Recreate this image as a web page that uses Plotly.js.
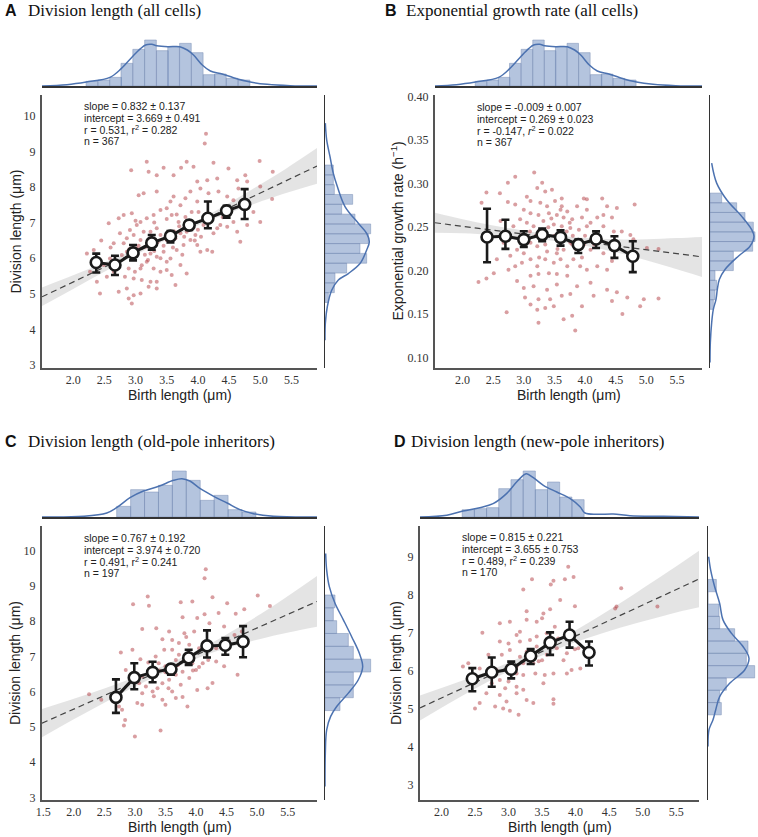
<!DOCTYPE html>
<html>
<head>
<meta charset="utf-8">
<script src="https://cdn.plot.ly/plotly-3.0.1.min.js"></script>
<style>html,body{margin:0;padding:0;background:#fff}</style>
</head>
<body>
<div id="chart" style="width:758px;height:837px;"></div>
<script>
// ---------- data ----------

// A: birth length vs division length, all cells
const pointsA = [[4.13,9.49],[4.11,9.22],[3.18,8.71],[2.93,8.47],[3.21,8.43],[3.45,8.54],[3.73,8.54],[3.82,8.71],[3.93,8.57],[4.25,8.68],[4.99,8.73],[5.20,8.43],[4.49,8.52],[4.15,8.19],[3.99,8.15],[4.31,8.24],[4.63,8.19],[4.76,8.33],[3.61,8.33],[3.34,8.33],[3.05,7.77],[3.13,7.82],[3.34,7.87],[3.56,7.59],[3.61,7.73],[3.72,7.49],[3.80,7.68],[3.88,7.87],[3.99,7.59],[4.04,7.96],[4.17,7.82],[4.33,7.87],[4.47,7.73],[4.57,7.63],[4.65,7.96],[4.79,8.15],[5.00,8.01],[4.89,7.30],[5.19,7.66],[2.81,7.21],[2.94,7.26],[2.57,6.98],[2.73,7.12],[3.08,7.02],[3.18,7.12],[3.29,7.21],[3.40,7.35],[3.50,7.40],[3.58,7.21],[3.66,7.23],[3.69,7.02],[3.80,7.16],[3.90,7.30],[4.01,7.30],[4.09,6.93],[4.20,7.02],[4.31,6.84],[4.36,6.93],[4.47,6.88],[4.57,7.02],[4.63,6.74],[4.79,6.93],[5.00,7.02],[4.68,6.46],[4.15,6.23],[4.23,6.18],[4.04,6.18],[3.96,6.65],[3.82,6.74],[3.72,6.70],[3.64,6.56],[3.50,6.51],[3.40,6.65],[3.34,6.84],[3.24,6.74],[3.13,6.74],[3.02,6.93],[2.97,6.65],[2.91,6.79],[2.86,6.56],[2.81,6.42],[2.65,6.42],[2.78,6.09],[2.86,6.18],[3.02,6.27],[3.08,6.51],[3.16,6.32],[3.24,6.13],[3.34,6.04],[3.45,6.18],[3.56,5.99],[3.66,6.23],[3.77,6.37],[3.88,6.51],[3.99,6.37],[3.72,5.81],[3.82,5.57],[3.50,5.67],[3.40,5.62],[3.29,5.71],[3.18,5.90],[3.08,5.71],[2.99,5.62],[2.89,5.71],[2.83,5.48],[2.97,5.43],[3.10,5.39],[3.24,5.34],[3.34,5.34],[3.58,5.53],[3.64,5.25],[3.08,5.01],[2.97,4.96],[2.86,5.15],[2.73,5.06],[2.43,5.01],[2.89,4.87],[3.21,5.20],[3.34,5.15],[2.94,4.73],[2.22,6.13],[2.33,6.23],[2.49,5.81],[2.27,5.62],[2.54,5.48],[2.65,5.62],[2.38,5.34],[2.59,5.99],[2.70,5.81],[3.26,6.55],[3.35,6.45],[3.45,6.35],[3.55,6.60],[3.62,6.75],[3.70,6.90],[3.78,6.60],[3.85,6.80],[3.92,6.90],[4.00,6.80],[4.05,6.60],[3.30,6.20],[3.15,6.10],[3.05,6.35],[2.95,6.00],[3.40,6.00],[3.50,5.90],[3.75,6.10],[3.20,5.95],[3.10,5.80],[2.90,6.25],[3.60,6.30],[3.95,6.50],[4.10,7.10],[4.25,6.70],[4.40,7.15],[3.30,7.00],[3.50,7.10],[3.00,7.05],[2.75,6.70],[2.60,6.30],[2.45,6.50]];
const meanXA = [2.37, 2.67, 2.96, 3.26, 3.56, 3.86, 4.16, 4.46, 4.75];
const meanYA = [5.88, 5.81, 6.15, 6.43, 6.62, 6.93, 7.12, 7.33, 7.51];
const errUpA = [0.25, 0.26, 0.22, 0.22, 0.14, 0.12, 0.47, 0.14, 0.43];
const errDnA = [0.28, 0.28, 0.21, 0.19, 0.18, 0.14, 0.28, 0.19, 0.41];
const fitA = {slope: 0.832, intercept: 3.669};
const ciXA  = [1.5, 2.0, 2.5, 3.0, 3.6, 4.2, 4.8, 5.4, 5.91];
const ciLoA = [4.66, 5.14, 5.62, 6.09, 6.60, 7.07, 7.46, 7.82, 8.09];
const ciHiA = [5.18, 5.52, 5.88, 6.25, 6.72, 7.25, 7.86, 8.50, 9.09];
const statsA = ["slope = 0.832 ± 0.137", "intercept = 3.669 ± 0.491", "r = 0.531, r<sup>2</sup> = 0.282", "n = 367"];

// birth length distribution of all cells (top margins of A and B)
const birthBinsAll   = [2.30, 2.49, 2.68, 2.86, 3.05, 3.24, 3.43, 3.61, 3.80, 3.99, 4.18, 4.36, 4.55, 4.74];
const birthCountsAll = [14, 18, 26, 68, 110, 138, 106, 118, 128, 100, 34, 36, 23, 18];
const birthKdeXAll = [1.50, 1.90, 2.21, 2.59, 2.77, 2.96, 3.08, 3.16, 3.26, 3.34, 3.52, 3.71, 3.83, 3.93, 4.07, 4.20, 4.39, 4.57, 4.84, 5.11, 5.48, 5.91];
const birthKdeHAll = [0, 4, 12, 26, 52, 90, 112, 123, 125, 121, 118, 118, 108, 93, 63, 45, 36, 25, 12, 5, 1, 0];

// division length distribution, all cells (right margin of A)
const divBinsA   = [8.477, 8.202, 7.926, 7.651, 7.375, 7.100, 6.824, 6.549, 6.273, 5.998, 5.722, 5.447, 5.171, 4.896];
const divCountsA = [25, 25, 28, 83, 50, 90, 137, 130, 105, 125, 65, 30, 28, 10];
const divKdeYA = [9.79, 9.32, 8.85, 8.38, 8.01, 7.45, 6.98, 6.70, 6.46, 6.23, 5.85, 5.57, 5.39, 5.10, 4.64, 4.17, 3.70];
const divKdeWA = [1, 5, 15, 25, 37, 60, 100, 125, 133, 125, 105, 70, 40, 20, 7, 1, 0];

// B: birth length vs exponential growth rate, all cells
const pointsB = [[3.17,0.313],[2.86,0.308],[2.74,0.301],[2.39,0.290],[2.61,0.289],[2.31,0.278],[2.74,0.279],[3.30,0.301],[3.35,0.291],[3.22,0.295],[3.46,0.293],[3.05,0.285],[3.11,0.280],[3.27,0.278],[3.38,0.274],[3.51,0.280],[3.62,0.274],[3.71,0.268],[3.87,0.274],[4.03,0.282],[4.03,0.270],[4.28,0.283],[4.36,0.274],[4.52,0.272],[4.81,0.276],[4.30,0.264],[4.44,0.261],[4.20,0.261],[4.09,0.255],[3.95,0.261],[3.79,0.259],[3.65,0.261],[3.54,0.264],[3.41,0.266],[3.24,0.264],[3.11,0.266],[3.00,0.270],[2.94,0.259],[2.83,0.251],[3.05,0.255],[3.16,0.251],[3.32,0.257],[3.49,0.253],[3.62,0.251],[3.76,0.249],[3.90,0.247],[4.03,0.251],[4.30,0.251],[4.47,0.245],[4.60,0.245],[4.74,0.241],[4.79,0.236],[5.01,0.226],[5.20,0.225],[4.52,0.228],[4.30,0.220],[4.09,0.224],[3.98,0.230],[3.76,0.232],[3.65,0.224],[3.54,0.220],[3.38,0.222],[3.22,0.228],[3.11,0.232],[3.00,0.220],[2.89,0.224],[2.78,0.217],[2.86,0.205],[2.97,0.209],[3.11,0.213],[3.22,0.205],[3.35,0.213],[3.49,0.209],[3.60,0.213],[3.71,0.205],[3.81,0.213],[3.92,0.205],[4.03,0.201],[4.20,0.205],[4.36,0.201],[4.44,0.211],[3.11,0.194],[3.24,0.196],[3.41,0.197],[3.54,0.196],[3.71,0.194],[2.89,0.188],[3.00,0.180],[3.16,0.182],[3.38,0.178],[3.54,0.184],[3.87,0.182],[4.09,0.186],[4.36,0.178],[4.52,0.175],[4.69,0.169],[4.90,0.159],[4.96,0.167],[5.20,0.168],[4.61,0.150],[4.44,0.165],[4.14,0.171],[3.95,0.159],[3.76,0.173],[3.62,0.171],[3.43,0.167],[3.24,0.167],[3.11,0.161],[3.02,0.169],[3.22,0.155],[3.35,0.157],[3.49,0.159],[2.72,0.152],[3.24,0.140],[3.65,0.144],[3.79,0.148],[3.84,0.131],[2.26,0.187],[2.39,0.191],[2.51,0.197],[2.56,0.213],[2.67,0.232],[2.62,0.257],[2.97,0.241],[2.75,0.201],[2.86,0.276],[3.98,0.283],[3.62,0.283],[3.79,0.230],[3.30,0.245],[3.40,0.250],[3.50,0.240],[3.60,0.235],[3.70,0.245],[3.80,0.240],[3.90,0.235],[3.20,0.240],[3.10,0.245],[3.00,0.235],[3.45,0.260],[3.60,0.270],[3.75,0.255],[3.35,0.230],[3.55,0.225],[3.95,0.215],[3.25,0.215],[4.00,0.240],[4.15,0.230],[3.85,0.225]];
const meanXB = [2.40, 2.70, 3.00, 3.30, 3.60, 3.89, 4.18, 4.48, 4.78];
const meanYB = [0.2387, 0.2395, 0.2357, 0.2414, 0.2383, 0.2299, 0.2364, 0.2288, 0.2166];
const errUpB = [0.0325, 0.0191, 0.0096, 0.0069, 0.0080, 0.0057, 0.0088, 0.0107, 0.0172];
const errDnB = [0.0290, 0.0145, 0.0084, 0.0076, 0.0096, 0.0096, 0.0103, 0.0141, 0.0183];
const fitB = {slope: -0.009, intercept: 0.269};
const ciXB  = [1.55, 2.0, 2.5, 3.0, 3.5, 4.0, 4.5, 5.0, 5.5, 5.91];
const ciLoB = [0.2435, 0.2430, 0.2410, 0.2382, 0.2342, 0.2285, 0.2210, 0.2120, 0.2015, 0.1928];
const ciHiB = [0.2665, 0.2590, 0.2520, 0.2458, 0.2408, 0.2375, 0.2360, 0.2360, 0.2375, 0.2388];
const statsB = ["slope = -0.009 ± 0.007", "intercept = 0.269 ± 0.023", "r = -0.147, <i>r</i><sup>2</sup> = 0.022", "n = 367"];
const rateBinsB   = [0.2836, 0.2725, 0.2613, 0.2502, 0.2390, 0.2279, 0.2167, 0.2056, 0.1944, 0.1833, 0.1721, 0.1610];
const rateCountsB = [35, 80, 105, 130, 135, 128, 70, 70, 15, 20, 15, 10];
const rateKdeYB = [0.3236, 0.3006, 0.2815, 0.2624, 0.2471, 0.2395, 0.2280, 0.2166, 0.2013, 0.1898, 0.1783, 0.1669, 0.1554, 0.1401, 0.1172, 0.0943];
const rateKdeWB = [5, 20, 50, 95, 125, 132, 120, 85, 45, 28, 22, 18, 10, 5, 1, 0];

// C: old-pole inheritors
const pointsC = [[4.16,9.47],[4.14,9.22],[3.21,8.70],[2.97,8.48],[3.23,8.44],[3.75,8.54],[3.94,8.56],[4.27,8.68],[4.51,8.51],[5.01,8.73],[5.21,8.43],[4.79,8.34],[4.65,8.21],[4.37,8.23],[4.14,8.20],[4.02,8.09],[3.78,8.11],[4.22,7.94],[4.46,7.85],[3.12,7.78],[3.35,7.80],[3.56,7.71],[3.81,7.66],[3.84,7.55],[3.97,7.71],[3.45,7.49],[2.77,7.11],[2.96,7.19],[3.09,6.92],[3.22,6.83],[3.34,7.00],[3.48,7.19],[3.61,7.19],[3.72,7.05],[3.89,7.33],[4.05,7.23],[4.33,7.23],[4.54,7.42],[4.63,7.61],[4.75,7.71],[4.33,6.86],[4.46,6.72],[4.68,6.48],[4.27,6.25],[4.19,6.10],[4.02,6.05],[3.89,6.39],[3.78,6.57],[3.67,6.48],[3.56,6.34],[3.45,6.24],[3.37,6.10],[3.29,6.01],[3.18,6.15],[3.07,6.24],[2.93,6.48],[2.85,6.62],[3.12,5.96],[3.04,5.68],[3.12,5.63],[3.31,5.87],[3.45,5.77],[3.50,5.63],[3.67,5.82],[3.78,5.85],[3.86,5.58],[3.61,6.01],[2.25,5.93],[2.45,5.77],[2.84,5.20],[2.82,5.04],[3.00,4.73],[3.42,4.90],[2.79,5.49],[2.74,5.58],[4.00,6.62],[4.11,6.81],[3.94,6.81],[3.67,6.90],[3.50,6.72],[3.39,6.81],[3.29,6.43],[3.12,6.43],[3.72,7.38],[3.61,7.47],[3.50,6.55],[3.60,6.65],[3.70,6.75],[3.80,6.90],[3.90,6.95],[3.95,6.60],[4.05,6.70],[3.40,6.60],[3.55,6.10],[4.20,6.90],[3.75,6.20]];
const meanXC = [2.69, 2.99, 3.29, 3.59, 3.88, 4.18, 4.48, 4.77];
const meanYC = [5.84, 6.40, 6.55, 6.64, 6.96, 7.30, 7.32, 7.42];
const errUpC = [0.51, 0.41, 0.30, 0.12, 0.23, 0.44, 0.20, 0.44];
const errDnC = [0.44, 0.33, 0.28, 0.16, 0.20, 0.33, 0.27, 0.44];
const fitC = {slope: 0.767, intercept: 3.974};
const ciXC  = [1.48, 2.0, 2.5, 3.0, 3.5, 3.8, 4.2, 4.7, 5.2, 5.98];
const ciLoC = [4.71, 5.22, 5.69, 6.15, 6.56, 6.79, 7.07, 7.33, 7.56, 7.84];
const ciHiC = [5.51, 5.80, 6.09, 6.41, 6.76, 6.99, 7.33, 7.83, 8.36, 9.28];
const statsC = ["slope = 0.767 ± 0.192", "intercept = 3.974 ± 0.720", "r = 0.491, r<sup>2</sup> = 0.241", "n = 197"];
const birthBinsC   = [2.816, 3.044, 3.272, 3.500, 3.727, 3.955, 4.183, 4.411, 4.639, 4.867];
const birthCountsC = [32, 82, 75, 95, 138, 110, 50, 65, 22, 15];
const birthKdeXC = [1.47, 2.16, 2.54, 2.70, 2.92, 3.14, 3.39, 3.63, 3.77, 3.90, 4.07, 4.29, 4.51, 4.72, 4.94, 5.27, 5.98];
const birthKdeHC = [0, 2, 12, 28, 58, 78, 92, 110, 115, 108, 85, 62, 42, 22, 10, 2, 0];
const divBinsC   = [8.562, 8.198, 7.834, 7.470, 7.105, 6.741, 6.377, 6.012, 5.648];
const divCountsC = [30, 25, 35, 70, 85, 137, 85, 85, 45];
const divKdeYC = [9.92, 9.45, 8.98, 8.51, 8.04, 7.56, 7.09, 6.71, 6.34, 5.96, 5.58, 5.30, 4.92, 4.26, 3.31];
const divKdeWC = [2, 5, 13, 30, 55, 80, 103, 113, 100, 70, 35, 17, 5, 1, 0];

// D: new-pole inheritors
const pointsD = [[3.89,8.74],[3.97,8.47],[3.84,8.41],[3.67,8.37],[3.35,8.41],[3.63,8.27],[3.22,8.14],[4.68,8.17],[4.61,7.69],[5.22,7.69],[3.99,7.70],[3.62,7.62],[3.77,7.86],[3.27,7.57],[3.52,7.51],[3.50,7.38],[3.42,7.29],[2.87,7.25],[3.02,7.29],[3.27,7.34],[3.69,7.16],[3.87,7.03],[3.74,6.85],[3.57,6.99],[3.42,6.90],[3.17,7.03],[3.12,6.94],[2.61,7.00],[2.87,6.77],[3.00,6.72],[3.17,6.77],[3.32,6.81],[3.42,6.64],[3.02,6.55],[2.90,6.42],[2.70,6.42],[3.17,6.37],[3.27,6.50],[3.22,6.20],[3.12,6.11],[3.37,6.20],[3.50,6.28],[3.57,6.42],[3.72,6.59],[3.82,6.28],[3.87,6.46],[3.99,6.57],[4.04,6.59],[3.94,6.02],[4.07,6.06],[3.87,5.93],[3.67,5.93],[3.54,5.89],[3.40,5.93],[3.22,5.89],[3.12,5.93],[2.32,6.11],[2.40,6.20],[2.57,6.06],[2.70,5.89],[2.82,6.02],[2.87,5.76],[3.00,5.72],[3.12,5.58],[3.22,5.50],[2.95,5.54],[2.75,5.67],[2.67,5.41],[2.87,5.36],[2.97,5.19],[3.12,5.41],[3.27,5.23],[3.37,5.15],[3.52,5.67],[3.67,5.25],[3.67,5.13],[2.57,5.15],[2.50,5.01],[2.80,5.06],[2.92,5.01],[3.02,4.95],[3.15,4.84],[4.59,7.64],[3.30,6.30],[3.35,6.40],[3.45,6.25]];
const meanXD = [2.46, 2.75, 3.04, 3.33, 3.62, 3.91, 4.20];
const meanYD = [5.79, 5.96, 6.04, 6.39, 6.74, 6.94, 6.48];
const errUpD = [0.28, 0.39, 0.20, 0.18, 0.27, 0.35, 0.29];
const errDnD = [0.33, 0.38, 0.24, 0.21, 0.32, 0.33, 0.34];
const fitD = {slope: 0.815, intercept: 3.655};
const ciXD  = [1.68, 2.2, 2.7, 3.2, 3.5, 3.9, 4.4, 4.9, 5.4, 5.84];
const ciLoD = [4.69, 5.23, 5.72, 6.15, 6.40, 6.69, 6.99, 7.25, 7.49, 7.67];
const ciHiD = [5.35, 5.67, 6.00, 6.37, 6.62, 6.97, 7.49, 8.05, 8.63, 9.16];
const statsD = ["slope = 0.815 ± 0.221", "intercept = 3.655 ± 0.753", "r = 0.489, r<sup>2</sup> = 0.239", "n = 170"];
const birthBinsD   = [2.400, 2.582, 2.763, 2.945, 3.127, 3.309, 3.490, 3.672, 3.854, 4.036];
const birthCountsD = [22, 25, 28, 85, 112, 138, 82, 105, 60, 52];
const birthKdeXD = [1.68, 2.08, 2.32, 2.57, 2.77, 2.97, 3.12, 3.22, 3.27, 3.37, 3.52, 3.72, 3.92, 4.07, 4.14, 4.32, 4.56, 4.81, 5.31, 5.85];
const birthKdeHD = [0, 5, 18, 28, 40, 70, 105, 125, 130, 118, 95, 75, 55, 30, 12, 8, 9, 4, 2, 0];
const divBinsD   = [8.242, 7.918, 7.594, 7.270, 6.946, 6.622, 6.298, 5.974, 5.650, 5.326, 5.002];
const divCountsD = [25, 0, 33, 35, 80, 120, 115, 140, 55, 35, 40];
const divKdeYD = [9.00, 8.65, 8.21, 7.77, 7.34, 6.99, 6.64, 6.33, 6.02, 5.67, 5.32, 4.97, 4.71, 4.45, 4.01];
const divKdeWD = [2, 8, 20, 35, 45, 70, 105, 123, 110, 65, 35, 23, 15, 3, 0];

// ---------- layout helpers ----------
const W = 758, H = 837;
const px = (x) => x / W;
const py = (y) => 1 - y / H;

const DOT = "rgba(180, 62, 68, 0.5)";
const HIST = "rgba(76, 114, 176, 0.42)";
const KDE = "#4c72b0";
const INK = "#1a1a1a";

const panels = [
  {
    label: "A", title: "Division length (all cells)", yTitle: "Division length (μm)",
    points: pointsA, meanX: meanXA, meanY: meanYA, errUp: errUpA, errDn: errDnA,
    fit: fitA, ciX: ciXA, ciLo: ciLoA, ciHi: ciHiA, stats: statsA,
    topBins: birthBinsAll, topCounts: birthCountsAll, topWidth: 0.187, topKdeX: birthKdeXAll, topKdeH: birthKdeHAll,
    rightBins: divBinsA, rightCounts: divCountsA, rightWidth: 0.2755, rightKdeY: divKdeYA, rightKdeW: divKdeWA,
    xRange: [1.5, 5.91], yRange: [2.92, 10.58],
    xTicks: [2.0, 2.5, 3.0, 3.5, 4.0, 4.5, 5.0, 5.5], yTicks: [3, 4, 5, 6, 7, 8, 9, 10], yFmt: "d",
    box: {x0: 42, x1: 317, y0: 95, y1: 368, topY0: 34, topY1: 86, rightX0: 325, rightX1: 372},
    topMax: 156, rightMax: 141, titleY: 11, labelX: 3, titleX: 26, statsX: 82, statsY: 106, yTitleX: 15
  },
  {
    label: "B", title: "Exponential growth rate (all cells)", yTitle: "Exponential growth rate (h<sup>−1</sup>)",
    points: pointsB, meanX: meanXB, meanY: meanYB, errUp: errUpB, errDn: errDnB,
    fit: fitB, ciX: ciXB, ciLo: ciLoB, ciHi: ciHiB, stats: statsB,
    topBins: birthBinsAll, topCounts: birthCountsAll, topWidth: 0.187, topKdeX: birthKdeXAll, topKdeH: birthKdeHAll,
    rightBins: rateBinsB, rightCounts: rateCountsB, rightWidth: 0.01115, rightKdeY: rateKdeYB, rightKdeW: rateKdeWB,
    xRange: [1.55, 5.91], yRange: [0.088, 0.402],
    xTicks: [2.0, 2.5, 3.0, 3.5, 4.0, 4.5, 5.0, 5.5], yTicks: [0.10, 0.15, 0.20, 0.25, 0.30, 0.35, 0.40], yFmt: ".2f",
    box: {x0: 435, x1: 702, y0: 95, y1: 368, topY0: 34, topY1: 86, rightX0: 710, rightX1: 756},
    topMax: 156, rightMax: 138, titleY: 11, labelX: 383, titleX: 404, statsX: 475, statsY: 107, yTitleX: 397
  },
  {
    label: "C", title: "Division length (old-pole inheritors)", yTitle: "Division length (μm)",
    points: pointsC, meanX: meanXC, meanY: meanYC, errUp: errUpC, errDn: errDnC,
    fit: fitC, ciX: ciXC, ciLo: ciLoC, ciHi: ciHiC, stats: statsC,
    topBins: birthBinsC, topCounts: birthCountsC, topWidth: 0.228, topKdeX: birthKdeXC, topKdeH: birthKdeHC,
    rightBins: divBinsC, rightCounts: divCountsC, rightWidth: 0.364, rightKdeY: divKdeYC, rightKdeW: divKdeWC,
    xRange: [1.48, 5.98], yRange: [2.93, 10.7],
    xTicks: [1.5, 2.0, 2.5, 3.0, 3.5, 4.0, 4.5, 5.0, 5.5], yTicks: [3, 4, 5, 6, 7, 8, 9, 10], yFmt: "d",
    box: {x0: 42, x1: 317, y0: 526, y1: 800, topY0: 466, topY1: 517, rightX0: 325, rightX1: 372},
    topMax: 153, rightMax: 141, titleY: 441, labelX: 3, titleX: 26, statsX: 82, statsY: 538, yTitleX: 15
  },
  {
    label: "D", title: "Division length (new-pole inheritors)", yTitle: "Division length (μm)",
    points: pointsD, meanX: meanXD, meanY: meanYD, errUp: errUpD, errDn: errDnD,
    fit: fitD, ciX: ciXD, ciLo: ciLoD, ciHi: ciHiD, stats: statsD,
    topBins: birthBinsD, topCounts: birthCountsD, topWidth: 0.182, topKdeX: birthKdeXD, topKdeH: birthKdeHD,
    rightBins: divBinsD, rightCounts: divCountsD, rightWidth: 0.324, rightKdeY: divKdeYD, rightKdeW: divKdeWD,
    xRange: [1.68, 5.84], yRange: [2.6, 9.81],
    xTicks: [2.0, 2.5, 3.0, 3.5, 4.0, 4.5, 5.0, 5.5], yTicks: [3, 4, 5, 6, 7, 8, 9], yFmt: "d",
    box: {x0: 420, x1: 699, y0: 526, y1: 800, topY0: 466, topY1: 517, rightX0: 708, rightX1: 756},
    topMax: 153, rightMax: 144, titleY: 441, labelX: 392, titleX: 409, statsX: 460, statsY: 537, yTitleX: 396
  }
];

const traces = [];
const layout = {
  width: W, height: H,
  margin: {l: 0, r: 0, t: 0, b: 0},
  paper_bgcolor: "#fff", plot_bgcolor: "rgba(0,0,0,0)",
  showlegend: false,
  annotations: []
};

const hidden = {showline: false, showgrid: false, zeroline: false, showticklabels: false, ticks: ""};
const tickFont = {family: "Liberation Serif, DejaVu Serif, serif", size: 12, color: "#333"};
const sans = "Liberation Sans, Arial, sans-serif";

panels.forEach((p, i) => {
  const n = 3 * i + 1; // main axes, n+1 top margin, n+2 right margin
  const ax = (k) => (k === 1 ? "" : String(k));
  const b = p.box;

  // main axes
  layout["xaxis" + ax(n)] = {
    domain: [px(b.x0), px(b.x1)], range: p.xRange, anchor: "y" + ax(n),
    showline: true, linecolor: "#555", linewidth: 2, showgrid: false, zeroline: false,
    ticks: "", tickvals: p.xTicks, tickformat: ".1f", tickfont: tickFont, ticklabelstandoff: 0
  };
  layout["yaxis" + ax(n)] = {
    domain: [py(b.y1), py(b.y0)], range: p.yRange, anchor: "x" + ax(n),
    showline: true, linecolor: "#555", linewidth: 2, showgrid: false, zeroline: false,
    ticks: "", tickvals: p.yTicks, tickformat: p.yFmt, tickfont: tickFont, ticklabelstandoff: 2
  };
  // top marginal
  layout["xaxis" + (n + 1)] = Object.assign({}, hidden, {
    domain: [px(b.x0), px(b.x1)], range: p.xRange, anchor: "y" + (n + 1),
    showline: true, linecolor: "#333", linewidth: 1.5
  });
  layout["yaxis" + (n + 1)] = Object.assign({}, hidden, {
    domain: [py(b.topY1), py(b.topY0)], range: [0, p.topMax], anchor: "x" + (n + 1)
  });
  // right marginal
  layout["xaxis" + (n + 2)] = Object.assign({}, hidden, {
    domain: [px(b.rightX0), px(b.rightX1)], range: [0, p.rightMax], anchor: "y" + (n + 2)
  });
  layout["yaxis" + (n + 2)] = Object.assign({}, hidden, {
    domain: [py(b.y1), py(b.y0)], range: p.yRange, anchor: "x" + (n + 2),
    showline: true, linecolor: "#333", linewidth: 1.5
  });

  const xa = "x" + ax(n), ya = "y" + ax(n);

  // confidence band of the fit
  traces.push({x: p.ciX, y: p.ciLo, xaxis: xa, yaxis: ya, mode: "lines", line: {width: 0, shape: "spline"}, hoverinfo: "skip"});
  traces.push({x: p.ciX, y: p.ciHi, xaxis: xa, yaxis: ya, mode: "lines", line: {width: 0, shape: "spline"},
    fill: "tonexty", fillcolor: "rgba(195,195,195,0.45)", hoverinfo: "skip"});

  // cells
  traces.push({
    x: p.points.map(d => d[0]), y: p.points.map(d => d[1]), xaxis: xa, yaxis: ya,
    mode: "markers", type: "scatter", marker: {size: 4, color: DOT}
  });

  // regression line
  const fx = p.xRange;
  traces.push({
    x: fx, y: fx.map(v => p.fit.intercept + p.fit.slope * v), xaxis: xa, yaxis: ya,
    mode: "lines", line: {color: "#444", width: 1.2, dash: "6px,4px"}
  });

  // binned means
  traces.push({
    x: p.meanX, y: p.meanY, xaxis: xa, yaxis: ya, mode: "lines+markers",
    line: {color: INK, width: 3},
    marker: {size: 11, color: "#fff", line: {color: INK, width: 2.6}},
    error_y: {type: "data", symmetric: false, array: p.errUp, arrayminus: p.errDn, color: INK, thickness: 2.6, width: 4}
  });

  // top marginal: histogram + kde
  traces.push({
    type: "bar", x: p.topBins, y: p.topCounts, width: p.topWidth, xaxis: "x" + (n + 1), yaxis: "y" + (n + 1),
    marker: {color: HIST, line: {color: "rgba(120,140,180,0.7)", width: 0.7}}
  });
  traces.push({
    x: p.topKdeX, y: p.topKdeH, xaxis: "x" + (n + 1), yaxis: "y" + (n + 1),
    mode: "lines", line: {color: KDE, width: 1.5, shape: "spline"}
  });

  // right marginal: histogram + kde
  traces.push({
    type: "bar", orientation: "h", y: p.rightBins, x: p.rightCounts, width: p.rightWidth,
    xaxis: "x" + (n + 2), yaxis: "y" + (n + 2),
    marker: {color: HIST, line: {color: "rgba(120,140,180,0.7)", width: 0.7}}
  });
  traces.push({
    x: p.rightKdeW, y: p.rightKdeY, xaxis: "x" + (n + 2), yaxis: "y" + (n + 2),
    mode: "lines", line: {color: KDE, width: 1.5, shape: "spline"}
  });

  // texts
  const A = layout.annotations;
  A.push({xref: "paper", yref: "paper", x: px(p.labelX), y: py(p.titleY), xanchor: "left", yanchor: "middle",
    text: "<b>" + p.label + "</b>", showarrow: false, font: {family: sans, size: 16, color: "#111"}});
  A.push({xref: "paper", yref: "paper", x: px(p.titleX), y: py(p.titleY), xanchor: "left", yanchor: "middle",
    text: p.title, showarrow: false, font: {family: "Liberation Serif, Times New Roman, serif", size: 17, color: "#111"}});
  p.stats.forEach((s, k) => {
    A.push({xref: "paper", yref: "paper", x: px(p.statsX), y: py(p.statsY + 11.8 * k), xanchor: "left", yanchor: "middle",
      text: s, showarrow: false, font: {family: sans, size: 10.5, color: "#222"}});
  });
  A.push({xref: "paper", yref: "paper", x: px((b.x0 + b.x1) / 2), y: py(b.y1 + 27), xanchor: "center", yanchor: "middle",
    text: "Birth length (μm)", showarrow: false, font: {family: sans, size: 14, color: "#222"}});
  A.push({xref: "paper", yref: "paper", x: px(p.yTitleX), y: py((b.y0 + b.y1) / 2), xanchor: "center", yanchor: "middle",
    text: p.yTitle, textangle: -90, showarrow: false, font: {family: sans, size: 14, color: "#222"}});
});

Plotly.newPlot("chart", traces, layout, {displayModeBar: false, staticPlot: true});
</script>
</body>
</html>
